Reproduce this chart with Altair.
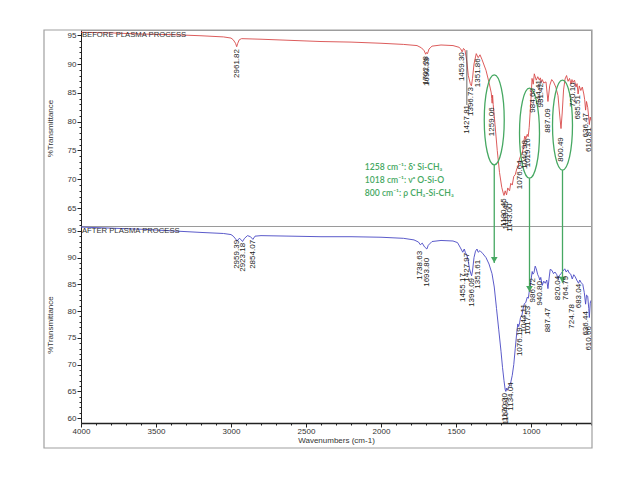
import altair as alt
import pandas as pd

# ---------------- spectra ----------------
before_wn = [4000, 3800, 3600, 3400, 3200, 3050, 3000, 2985, 2970, 2962, 2955, 2945, 2930, 2800, 2600,
             2400, 2200, 2000, 1850, 1760, 1730, 1712, 1702, 1696, 1690, 1680, 1660, 1600, 1520, 1480,
             1468, 1459, 1450, 1440, 1428, 1418, 1405, 1397, 1390, 1380, 1365, 1352, 1340, 1327, 1300,
             1280, 1265, 1262, 1259, 1256, 1252, 1240, 1225, 1210, 1195, 1185, 1180, 1172, 1163, 1155,
             1143, 1135, 1125, 1115, 1105, 1095, 1085, 1077, 1070, 1060, 1050, 1045, 1041, 1035, 1025,
             1019, 1012, 1000, 993, 985, 978, 965, 955, 944, 938, 931, 925, 915, 900, 887,
             875, 862, 850, 835, 820, 810, 800, 792, 783, 773, 763, 753, 743, 733, 727,
             720, 710, 700, 693, 686, 678, 668, 658, 648, 642, 636, 630, 622, 616, 611,
             605, 600]
before_t = [95.5, 95.4, 95.2, 95.1, 94.9, 94.7, 94.5, 94.2, 93.6, 93.0, 93.6, 94.2, 94.4, 94.3, 94.1,
            93.9, 93.8, 93.6, 93.4, 93.2, 92.8, 92.3, 91.7, 92.0, 91.8, 92.6, 93.1, 93.3, 93.2, 92.9,
            92.6, 92.1, 92.7, 92.4, 90.5, 88.0, 86.6, 86.2, 87.5, 90.0, 91.8, 91.1, 91.6, 90.8, 88.9,
            86.8, 85.0, 84.0, 83.2, 84.6, 83.0, 79.5, 75.0, 71.2, 68.6, 67.6, 67.2, 68.0, 67.3, 68.5,
            68.0, 69.3, 69.0, 70.5, 70.8, 71.8, 72.3, 73.5, 74.0, 74.5, 75.5, 77.0, 77.5, 77.0, 77.8,
            77.4, 79.0, 84.0, 87.5, 86.5, 88.3, 87.2, 87.8, 87.2, 87.6, 86.8, 87.3, 86.7, 86.9, 83.5,
            86.3, 87.3, 86.9, 86.0, 84.5, 81.5, 78.8, 81.5, 85.5, 87.4, 88.0, 87.0, 87.5, 86.5, 87.3,
            86.8, 87.2, 86.0, 86.6, 84.8, 86.2, 85.4, 86.0, 84.8, 83.8, 82.0, 83.5, 82.5, 81.0, 79.5,
            80.8, 80.2]

after_wn = [4000, 3800, 3600, 3400, 3200, 3050, 3000, 2985, 2970, 2959, 2945, 2935, 2923, 2910, 2890,
            2870, 2854, 2840, 2800, 2600, 2400, 2200, 2000, 1850, 1780, 1750, 1738, 1725, 1710, 1694,
            1685, 1660, 1600, 1520, 1490, 1470, 1455, 1445, 1437, 1428, 1420, 1410, 1400, 1396, 1390,
            1380, 1370, 1360, 1352, 1340, 1320, 1300, 1280, 1260, 1245, 1230, 1215, 1200, 1190, 1180,
            1172, 1168, 1164, 1160, 1150, 1140, 1134, 1125, 1115, 1105, 1095, 1088, 1082, 1076, 1070,
            1060, 1052, 1044, 1035, 1025, 1018, 1010, 1000, 992, 987, 980, 972, 965, 955, 948,
            941, 935, 925, 915, 905, 895, 887, 880, 872, 860, 850, 840, 828, 820, 812,
            800, 790, 775, 765, 755, 745, 735, 725, 715, 705, 695, 683, 675, 665, 655,
            645, 636, 630, 622, 615, 611, 605, 600]
after_t = [95.7, 95.5, 95.3, 95.0, 94.7, 94.5, 94.3, 94.0, 93.5, 93.1, 93.6, 93.4, 93.0, 93.6, 94.1,
           93.9, 93.4, 94.0, 94.1, 94.0, 93.9, 93.9, 93.8, 93.6, 93.3, 92.9, 92.4, 92.7, 92.0, 91.6,
           92.3, 93.0, 93.2, 93.1, 92.8, 91.8, 91.0, 91.6, 90.9, 90.5, 89.6, 87.9, 86.9, 86.6, 87.5,
           90.0, 91.2, 91.6, 91.0, 91.3, 90.7, 90.0, 88.8, 87.0, 84.5, 80.5, 76.5, 72.5, 69.5, 67.0,
           65.3, 65.0, 65.6, 65.2, 65.8, 66.3, 66.8, 68.0, 70.0, 73.0, 76.0, 77.6, 77.1, 77.8, 78.8,
           79.3, 80.5, 81.4, 81.6, 82.6, 82.4, 84.0, 85.8, 87.4, 86.9, 87.2, 88.4, 87.9, 86.8, 86.4,
           85.8, 86.3, 84.8, 85.6, 85.2, 85.8, 84.2, 86.0, 87.8, 87.6, 87.0, 87.3, 86.8, 86.0, 86.6,
           87.0, 87.4, 87.9, 87.3, 87.7, 87.1, 86.9, 86.0, 86.8, 86.4, 85.8, 85.2, 85.8, 85.3, 85.0,
           83.5, 81.3, 83.0, 82.8, 80.5, 78.8, 81.5, 82.0]

# ---------------- peak labels ----------------
before_peak_label = ["2961.82", "1702.28", "1690.59", "1459.30", "1427.81", "1396.73", "1351.86",
                     "1259.06", "1180.45", "1163.40", "1143.00", "1076.64", "1040.98", "1019.16",
                     "984.60", "944.41", "931.42", "887.09", "800.49", "720.10", "685.51",
                     "636.47", "610.81"]
before_peak_t = [92.6, 91.4, 91.2, 92.05, 82.9, 86.0, 91.0,
                 82.5, 66.7, 66.2, 65.8, 73.3, 76.8, 77.1,
                 85.8, 87.2, 86.7, 82.3, 77.3, 86.8, 84.6,
                 81.5, 79.0]

after_peak_label = ["2959.39", "2923.18", "2854.07", "1738.63", "1693.80", "1455.17", "1427.97",
                    "1396.09", "1351.61", "1170.20", "1164.91", "1134.04", "1076.19", "1044.11",
                    "1017.53", "986.72", "940.80", "887.47", "820.04", "764.79", "724.78",
                    "683.04", "636.44", "610.66"]
after_peak_t = [93.3, 92.75, 93.3, 91.25, 89.95, 87.1, 90.9,
                86.2, 89.6, 64.7, 64.1, 66.7, 77.0, 81.3,
                81.0, 86.2, 85.6, 80.6, 86.6, 86.6, 81.3,
                85.1, 80.0, 77.2]

# ---------------- annotations ----------------
band_wn = [1245, 1010, 790]
band_center_t = [80.3, 78.0, 79.4]
band_bottom_t = [72.5, 70.2, 71.6]
arrow_tip_t = [89.0, 83.6, 85.3]
note_lines = ["1258 cm\u207b\u00b9: \u03b4\u02e2 Si-CH\u2083",
              "1018 cm\u207b\u00b9: \u03bd\u1d43 O-Si-O",
              "800 cm\u207b\u00b9: \u03c1 CH\u2083-Si-CH\u2083"]
note_t = [72.1, 69.85, 67.6]
note_wn = 2108

panel_titles = ["BEFORE PLASMA PROCESS", "AFTER PLASMA PROCESS"]
leader_wn = [1427.81]
leader_t1 = [92.4]
leader_t2 = [82.9]

y_ticks_top = list(range(62, 96))
y_ticks_bottom = list(range(60, 96))
x_ticks = list(range(600, 4001, 100))

RED = "#d84a4a"
BLUE = "#4848c4"
GREEN = "#46a862"
FONT = "Liberation Sans"

W = 510
H_TOP = 196
H_BOT = 197
X_DOM = [600, 4000]
TOP_DOM = [61.9, 95.9]
BOT_DOM = [59.1, 95.9]

xscale = alt.Scale(domain=X_DOM, reverse=True, nice=False, zero=False)
top_scale = alt.Scale(domain=TOP_DOM, nice=False, zero=False)
bot_scale = alt.Scale(domain=BOT_DOM, nice=False, zero=False)


def yaxis(values):
    return alt.Axis(values=values, title="%Transmittance", titlePadding=13, labelPadding=1,
                    labelExpr="datum.value % 5 === 0 ? datum.label : ''", labelOverlap=False,
                    labelFlush=False, grid=False,
                    tickSize={"condition": {"test": "datum.value % 5 === 0", "value": 4}, "value": 2})


top_axis = yaxis(y_ticks_top)
bot_axis = yaxis(y_ticks_bottom)
x_axis = alt.Axis(values=x_ticks, format="d", labelExpr="datum.value % 500 === 0 ? datum.label : ''",
                  labelOverlap=False, labelFlush=False, grid=False, labelPadding=0, titlePadding=1,
                  domainWidth=1.5,
                  tickSize={"condition": {"test": "datum.value % 500 === 0", "value": 4}, "value": 2})
XTITLE = "Wavenumbers (cm-1)"


def ytop(field):
    return alt.Y(field, scale=top_scale, axis=top_axis)


def ybot(field):
    return alt.Y(field, scale=bot_scale, axis=bot_axis)


# ---------------- data frames ----------------
df_before = pd.DataFrame({"wn": before_wn, "t": before_t})
df_after = pd.DataFrame({"wn": after_wn, "t": after_t})
df_bl = pd.DataFrame({"wn": [float(s) for s in before_peak_label], "t": before_peak_t, "lab": before_peak_label})
df_al = pd.DataFrame({"wn": [float(s) for s in after_peak_label], "t": after_peak_t, "lab": after_peak_label})
df_band = pd.DataFrame({"wn": band_wn, "c": band_center_t, "b": band_bottom_t,
                        "top": [TOP_DOM[0]] * 3, "btop": [BOT_DOM[1]] * 3, "tip": arrow_tip_t})
df_notes = pd.DataFrame({"wn": [note_wn] * 3, "t": note_t, "txt": note_lines})
df_title_top = pd.DataFrame({"wn": [3994], "t": [95.0], "txt": [panel_titles[0]]})
df_title_bot = pd.DataFrame({"wn": [3994], "t": [95.0], "txt": [panel_titles[1]]})
df_leader = pd.DataFrame({"wn": leader_wn, "t1": leader_t1, "t2": leader_t2})

ellipse_path = ("M 0 -1 C 0.1226 -1 0.222 -0.5523 0.222 0 C 0.222 0.5523 0.1226 1 0 1 "
                "C -0.1226 1 -0.222 0.5523 -0.222 0 C -0.222 -0.5523 -0.1226 -1 0 -1 Z")

# ---------------- top panel ----------------
xt = alt.X("wn:Q", scale=xscale, axis=None)

top_line = alt.Chart(df_before).mark_line(color=RED, strokeWidth=0.9).encode(x=xt, y=ytop("t:Q"))
top_labels = alt.Chart(df_bl).mark_text(angle=270, align="right", baseline="middle", font=FONT,
                                        fontSize=8, color="#222").encode(x=xt, y=ytop("t:Q"), text="lab:N")
top_leader = alt.Chart(df_leader).mark_rule(color="#444", strokeWidth=0.8).encode(
    x=xt, y=ytop("t1:Q"), y2="t2:Q")
top_title = alt.Chart(df_title_top).mark_text(align="left", baseline="middle", font=FONT, fontSize=7.7,
                                              color="#333").encode(x=xt, y=ytop("t:Q"), text="txt:N")
ellipses = alt.Chart(df_band).mark_point(shape=ellipse_path, size=8100, filled=False, color=GREEN,
                                         strokeWidth=1.3, opacity=1).encode(x=xt, y=ytop("c:Q"))
top_rules = alt.Chart(df_band).mark_rule(color=GREEN, strokeWidth=1.3).encode(
    x=xt, y=ytop("b:Q"), y2="top:Q")
notes = alt.Chart(df_notes).mark_text(align="left", baseline="middle", font="Lato", fontSize=8.6,
                                      fontWeight=600, color=GREEN).encode(x=xt, y=ytop("t:Q"), text="txt:N")

top = alt.layer(top_line, top_leader, ellipses, top_rules, top_labels, top_title, notes).properties(
    width=W, height=H_TOP)

# ---------------- bottom panel ----------------
xb = alt.X("wn:Q", scale=xscale, title=XTITLE, axis=x_axis)

bot_line = alt.Chart(df_after).mark_line(color=BLUE, strokeWidth=0.9).encode(x=xb, y=ybot("t:Q"))
bot_labels = alt.Chart(df_al).mark_text(angle=270, align="right", baseline="middle", font=FONT,
                                        fontSize=8, color="#222").encode(x=xb, y=ybot("t:Q"), text="lab:N")
bot_title = alt.Chart(df_title_bot).mark_text(align="left", baseline="middle", font=FONT, fontSize=7.7,
                                              color="#333").encode(x=xb, y=ybot("t:Q"), text="txt:N")
bot_rules = alt.Chart(df_band).mark_rule(color=GREEN, strokeWidth=1.3).encode(
    x=xb, y=ybot("btop:Q"), y2="tip:Q")
arrows = alt.Chart(df_band).mark_point(shape="triangle-down", filled=True, size=45, color=GREEN,
                                       opacity=1, yOffset=-3).encode(x=xb, y=ybot("tip:Q"))
frame = alt.Chart(pd.DataFrame({"k": [0]})).mark_rect(fill=None, stroke="#a0a0a0", strokeWidth=1.2).encode(
    x=alt.value(-37), x2=alt.value(511), y=alt.value(-196), y2=alt.value(222))

bottom = alt.layer(bot_line, bot_rules, arrows, bot_labels, bot_title, frame).properties(
    width=W, height=H_BOT)

chart = alt.vconcat(top, bottom, spacing=0, bounds="flush").properties(
    padding={"left": 42, "top": 28, "right": 10, "bottom": 10}
).configure_view(stroke="#9a9a9a", strokeWidth=1).configure_axis(
    labelFont=FONT, labelFontSize=8, labelColor="#333", titleFont=FONT, titleFontSize=8,
    titleFontWeight="normal", titleColor="#333", domainColor="#222", tickColor="#222"
).configure_concat(spacing=0)

chart.save("out.html", embed_options={"renderer": "svg", "actions": False})
